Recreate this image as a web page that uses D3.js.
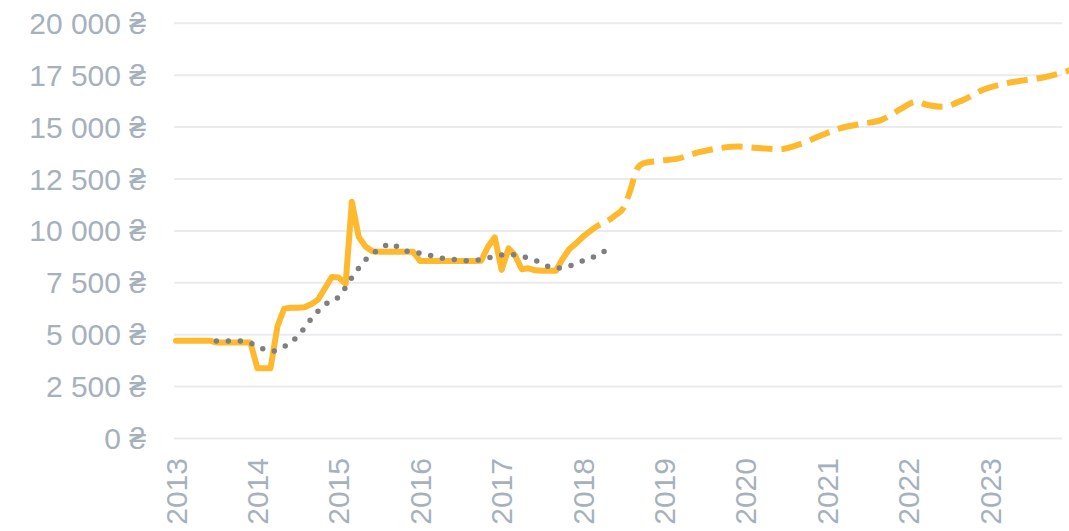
<!DOCTYPE html>
<html>
<head>
<meta charset="utf-8">
<script src="https://cdn.jsdelivr.net/npm/d3@7"></script>
<style>
  body { margin: 0; background: #fff; }
  svg { display: block; }
</style>
</head>
<body>
<div id="chart"></div>
<script>
// actual salary, monthly from 2013-01 to 2018-01
var actualStart = "2013-01";
var actualValues = [
  4710, 4710, 4710, 4710, 4710, 4710, 4620, 4620, 4620, 4620, 4620, 4620,
  3380, 3380, 3380, 5400, 6250, 6300, 6300, 6320, 6480, 6700, 7250, 7780,
  7750, 7450, 11400, 9700, 9250, 9020, 9000, 9000, 9000, 9000, 9000, 9000,
  8550, 8550, 8550, 8550, 8550, 8550, 8550, 8550, 8550, 8560, 9250, 9690,
  8120, 9160, 8840, 8150, 8200, 8100, 8080, 8080, 8080, 8650, 9130, 9400,
  9720
];

// forecast (dashed)
var forecastDates = [
  "2018-01", "2018-03", "2018-05", "2018-06", "2018-07", "2018-08", "2018-09", "2018-10",
  "2018-12", "2019-03", "2019-06", "2019-09", "2019-12", "2020-03", "2020-06", "2020-09",
  "2020-12", "2021-03", "2021-06", "2021-09", "2021-12", "2022-02", "2022-04", "2022-06",
  "2022-09", "2022-12", "2023-03", "2023-06", "2023-09", "2023-12", "2024-01"
];
var forecastValues = [
  9720, 10200, 10550, 10800, 11100, 11950, 13000, 13270,
  13370, 13480, 13780, 13980, 14060, 13990, 13930, 14180,
  14580, 14950, 15150, 15350, 15900, 16225, 16050, 15980,
  16300, 16800, 17080, 17250, 17400, 17650, 17750
];

// trend (gray dots)
var trendDates = [
  "2013-07", "2013-09", "2013-11", "2014-01", "2014-03", "2014-05", "2014-07", "2014-09",
  "2014-11", "2015-01", "2015-03", "2015-05", "2015-07", "2015-08", "2015-09", "2015-10",
  "2015-12", "2016-02", "2016-04", "2016-06", "2016-08", "2016-10", "2016-12", "2017-02",
  "2017-04", "2017-06", "2017-08", "2017-09", "2017-11", "2018-01", "2018-03", "2018-05"
];
var trendValues = [
  4700, 4700, 4690, 4450, 4200, 4420, 4920, 5780,
  6450, 6830, 7750, 8600, 9110, 9300, 9380, 9120,
  8980, 8860, 8700, 8620, 8565, 8620, 8770, 8870,
  8770, 8580, 8280, 8200, 8310, 8560, 8800, 9170
];

var yTicks = [0, 2500, 5000, 7500, 10000, 12500, 15000, 17500, 20000];
var yearTicks = ["2013", "2014", "2015", "2016", "2017", "2018", "2019", "2020", "2021", "2022", "2023"];

var width = 1069, height = 531;
var parseMonth = d3.timeParse("%Y-%m");
var parseYear = d3.timeParse("%Y");

var svg = d3.select("#chart").append("svg")
  .attr("width", width)
  .attr("height", height);

var x = d3.scaleTime()
  .domain([parseYear("2013"), parseYear("2024")])
  .range([176, 1071.4]);

var y = d3.scaleLinear()
  .domain([0, 20000])
  .range([438.5, 23.3]);

var locale = d3.formatLocale({decimal: ",", thousands: " ", grouping: [3], currency: ["", " ₴"]});
var fmt = locale.format("$,.0f");

// grid lines + y labels
svg.append("g")
  .selectAll("line")
  .data(yTicks)
  .join("line")
  .attr("x1", 174)
  .attr("x2", 1062)
  .attr("y1", d => y(d))
  .attr("y2", d => y(d))
  .style("stroke", "#ebebef")
  .style("stroke-width", 2);

svg.append("g")
  .selectAll("text")
  .data(yTicks)
  .join("text")
  .attr("x", 146)
  .attr("y", d => y(d))
  .attr("dy", "0.35em")
  .attr("text-anchor", "end")
  .style("font-family", "'Liberation Sans', Arial, sans-serif")
  .style("font-size", "30px")
  .style("fill", "#a7b1bc")
  .text(d => fmt(d));

// x labels, rotated
svg.append("g")
  .selectAll("text")
  .data(yearTicks)
  .join("text")
  .attr("transform", d => `translate(${x(parseYear(d))},458) rotate(-90)`)
  .attr("dy", "0.35em")
  .attr("text-anchor", "end")
  .style("font-family", "'Liberation Sans', Arial, sans-serif")
  .style("font-size", "30px")
  .style("fill", "#a7b1bc")
  .text(d => d);

// build series
var actualDates = d3.timeMonth.range(parseMonth(actualStart), d3.timeMonth.offset(parseMonth(actualStart), actualValues.length));
var actual = actualValues.map((v, i) => ({date: actualDates[i], value: v}));
var forecast = forecastValues.map((v, i) => ({date: parseMonth(forecastDates[i]), value: v}));
var trend = trendValues.map((v, i) => ({date: parseMonth(trendDates[i]), value: v}));

var line = d3.line()
  .x(d => x(d.date))
  .y(d => y(d.value));

var smooth = d3.line()
  .x(d => x(d.date))
  .y(d => y(d.value))
  .curve(d3.curveMonotoneX);

svg.append("path")
  .datum(actual)
  .attr("d", line)
  .style("fill", "none")
  .style("stroke", "#ffb92e")
  .style("stroke-width", 6)
  .style("stroke-linejoin", "round")
  .style("stroke-linecap", "round");

svg.append("path")
  .datum(forecast)
  .attr("d", smooth)
  .style("fill", "none")
  .style("stroke", "#ffb92e")
  .style("stroke-width", 6)
  .style("stroke-dasharray", "21 9");

svg.append("path")
  .datum(trend)
  .attr("d", smooth)
  .style("fill", "none")
  .style("stroke", "#7f7f7f")
  .style("stroke-width", 5.5)
  .style("stroke-linecap", "round")
  .style("stroke-dasharray", "0 12");
</script>
</body>
</html>
